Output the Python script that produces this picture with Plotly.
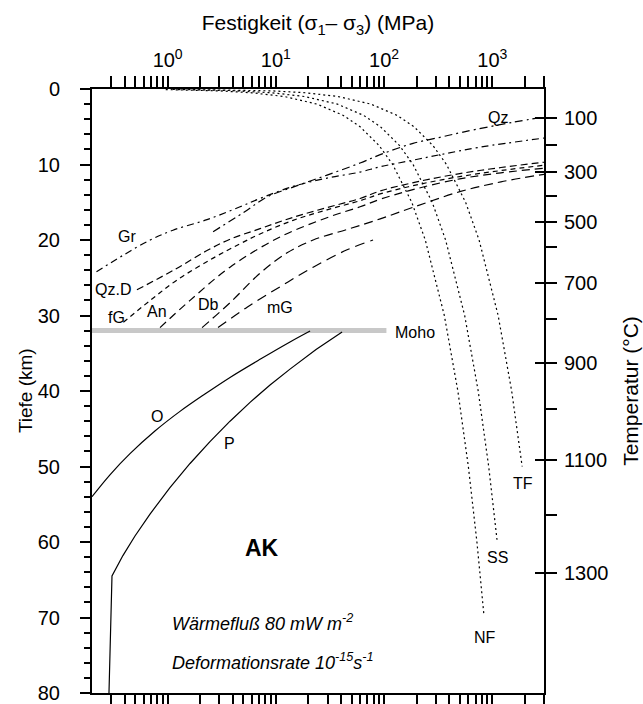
import math
import plotly.graph_objects as go

# ---------------- data (stress in MPa, depth in km) ----------------
gr_s = [0.22, 0.39, 0.69, 1.12, 2.31, 4.67, 7.14, 14.4, 29.7, 60, 92, 174, 329, 771, 3000]
gr_d = [24.2, 22.0, 20.0, 18.7, 17.3, 15.6, 14.5, 12.9, 11.8, 11.0, 10.3, 9.5, 8.7, 7.7, 6.5]

qz_s = [2.63, 4.98, 8.28, 14.4, 29.7, 60, 92, 185, 329, 537, 1556, 3000]
qz_d = [18.9, 16.4, 14.3, 13.0, 11.4, 9.8, 8.7, 7.2, 6.4, 5.7, 4.4, 3.7]

qzd_s = [0.52, 1.2, 2.31, 3.77, 7.14, 14.4, 29.7, 60, 92, 200, 500, 1200, 3000]
qzd_d = [26.6, 23.8, 21.4, 19.9, 18.5, 17.0, 15.7, 14.5, 13.5, 12.3, 11.2, 10.4, 9.7]

fg_s = [0.39, 0.69, 1.22, 2.63, 4.67, 7.14, 14.4, 29.7, 60, 92, 200, 500, 1200, 3000]
fg_d = [30.9, 28.0, 25.3, 22.4, 20.5, 19.2, 17.4, 16.0, 14.8, 13.9, 12.7, 11.6, 10.8, 10.1]

an_s = [0.85, 1.61, 3.77, 10.9, 31.7, 60, 92, 200, 500, 1200, 3000]
an_d = [31.6, 28.0, 23.6, 19.6, 16.9, 15.6, 14.6, 13.2, 11.9, 11.1, 10.5]

db_s = [2.08, 3.77, 7.14, 12.7, 22.1, 45.5, 92, 200, 500, 1200, 3000]
db_d = [31.6, 28.3, 24.4, 21.7, 20.0, 18.6, 17.2, 15.5, 13.6, 12.3, 11.3]

mg_s = [2.92, 5.42, 10.9, 22.1, 45.5, 79]
mg_d = [31.6, 28.9, 26.2, 23.6, 21.3, 20.0]

o_s = [20.7, 13.5, 7.14, 3.77, 2.21, 1.30, 0.763, 0.449, 0.293, 0.2]
o_d = [32.05, 33.5, 35.8, 38.2, 40.4, 42.7, 45.3, 48.3, 51.1, 54.0]

p_s = [40.9, 23.5, 13.5, 8.83, 5.77, 3.77, 2.46, 1.61, 1.05, 0.687, 0.499, 0.386, 0.306, 0.300, 0.287]
p_d = [32.2, 34.5, 37.1, 39.2, 41.5, 44.0, 46.7, 49.6, 52.8, 56.3, 59.2, 61.8, 64.5, 70.7, 80.0]

nf_s = [0.96, 3, 6, 12, 24, 42, 60, 90, 120, 180, 240, 360, 480, 600, 720, 836]
nf_d = [0.08, 0.25, 0.5, 1, 2, 3.5, 5, 7.5, 10, 15, 20, 30, 40, 50, 60, 69.7]

ss_s = [1.11, 3.7, 9.25, 18.5, 37, 64.8, 92.5, 139, 185, 278, 370, 555, 740, 925, 1104]
ss_d = [0.06, 0.2, 0.5, 1, 2, 3.5, 5, 7.5, 10, 15, 20, 30, 40, 50, 59.7]

tf_s = [1.13, 3.77, 9.4, 18.9, 37.7, 75.4, 132, 189, 283, 377, 566, 754, 1131, 1508, 1885]
tf_d = [0.03, 0.1, 0.25, 0.5, 1, 2, 3.5, 5, 7.5, 10, 15, 20, 30, 40, 50]

moho_s = [0.2, 105]
moho_d = [32.0, 32.0]

# temperature axis (right): depth of each isotherm
temp_major = [100, 300, 500, 700, 900, 1100, 1300]
temp_major_depth = [3.85, 11.0, 17.6, 25.7, 36.3, 49.2, 64.1]
temp_minor_depth = [7.4, 14.2, 20.9, 30.5, 42.4, 56.4]   # 200, 400, ..., 1200 °C

depth_ticks = [0, 10, 20, 30, 40, 50, 60, 70, 80]
stress_ticks = [1, 10, 100, 1000]
stress_ticktext = ["10<sup>0</sup>", "10<sup>1</sup>", "10<sup>2</sup>", "10<sup>3</sup>"]
stress_minor = [0.3, 0.4, 0.5, 0.6, 0.7, 0.8, 0.9,
                2, 3, 4, 5, 6, 7, 8, 9,
                20, 30, 40, 50, 60, 70, 80, 90,
                200, 300, 400, 500, 600, 700, 800, 900, 2000, 3000]

FONT = "Liberation Sans, Arial, sans-serif"

fig = go.Figure()

def add_line(xs, ys, dash, width=1.2, color="black", shape="linear"):
    fig.add_trace(go.Scatter(x=xs, y=ys, mode="lines", showlegend=False,
                             line=dict(color=color, width=width, dash=dash, shape=shape),
                             hoverinfo="skip"))

add_line(moho_s, moho_d, "solid", width=5, color="#c8c8c8")
add_line(gr_s, gr_d, "7px,4px,2px,4px", shape="spline")
add_line(qz_s, qz_d, "8px,4px,2px,4px", shape="spline")
add_line(qzd_s, qzd_d, "7px,4px", shape="spline")
add_line(fg_s, fg_d, "5px,4px", shape="spline")
add_line(an_s, an_d, "8px,5px", shape="spline")
add_line(db_s, db_d, "9px,5px", shape="spline")
add_line(mg_s, mg_d, "10px,6px", shape="spline")
add_line(o_s, o_d, "solid", shape="spline")
add_line(p_s, p_d, "solid")
add_line(nf_s, nf_d, "2px,3px")
add_line(ss_s, ss_d, "2px,3px")
add_line(tf_s, tf_d, "2px,3px")

labels = [
    ("Gr", 0.42, 19.6), ("Qz.D", 0.31, 26.6), ("fG", 0.34, 30.3), ("An", 0.80, 29.5),
    ("Db", 2.36, 28.6), ("mG", 10.9, 28.9), ("Moho", 193, 32.3), ("Qz", 1130, 3.8),
    ("O", 0.80, 43.4), ("P", 3.69, 46.9), ("TF", 1920, 52.2), ("SS", 1106, 62.0),
    ("NF", 857, 72.6),
]
anns = []
for t, xv, yv in labels:
    anns.append(dict(x=math.log10(xv), y=yv, xref="x", yref="y", text=t, showarrow=False,
                     font=dict(family=FONT, size=16, color="black")))
anns.append(dict(x=math.log10(7.45), y=60.8, xref="x", yref="y", text="<b>AK</b>", showarrow=False,
                 font=dict(family=FONT, size=23, color="black")))
anns.append(dict(x=math.log10(1.05), y=70.7, xref="x", yref="y", xanchor="left",
                 text="<i>Wärmefluß 80 mW m<sup>-2</sup></i>", showarrow=False,
                 font=dict(family=FONT, size=18, color="black")))
anns.append(dict(x=math.log10(1.05), y=75.8, xref="x", yref="y", xanchor="left",
                 text="<i>Deformationsrate 10<sup>-15</sup>s<sup>-1</sup></i>", showarrow=False,
                 font=dict(family=FONT, size=18, color="black")))
# left axis title (placed explicitly)
anns.append(dict(x=-0.148, y=0.5, xref="paper", yref="paper", text="Tiefe (km)",
                 textangle=-90, showarrow=False, xanchor="center", yanchor="middle",
                 font=dict(family=FONT, size=19, color="black")))

xr = [math.log10(0.2), math.log10(3000)]
tick_common = dict(ticks="outside", ticklen=11, tickwidth=1.5, tickcolor="black")
fig.update_layout(
    width=643, height=704,
    margin=dict(l=92, r=99, t=89, b=11, autoexpand=False),
    plot_bgcolor="white", paper_bgcolor="white",
    font=dict(family=FONT, size=20, color="black"),
    annotations=anns,
    xaxis=dict(type="log", range=xr, side="top", showgrid=False, zeroline=False,
               showline=True, linewidth=2, linecolor="black", automargin=False,
               tickmode="array", tickvals=stress_ticks, ticktext=stress_ticktext,
               minor=dict(tickmode="array", tickvals=stress_minor, showgrid=False, **tick_common),
               tickfont=dict(size=20), ticklabelstandoff=1,
               title=dict(text="Festigkeit (σ<sub>1</sub>– σ<sub>3</sub>) (MPa)",
                          font=dict(size=21), standoff=9),
               **tick_common),
    xaxis2=dict(type="log", range=xr, side="bottom", overlaying="x", anchor="y",
                showgrid=False, zeroline=False, showline=True, linewidth=2, linecolor="black",
                automargin=False,
                tickmode="array", tickvals=stress_ticks, showticklabels=False,
                minor=dict(tickmode="array", tickvals=stress_minor, showgrid=False, **tick_common),
                **tick_common),
    yaxis=dict(range=[80, 0], showgrid=False, zeroline=False, showline=True, linewidth=2,
               linecolor="black", tickmode="array", tickvals=depth_ticks, automargin=False,
               ticks="outside", ticklen=10, tickwidth=1.5, tickcolor="black",
               minor=dict(dtick=2, ticks="outside", ticklen=6, tickwidth=1.5,
                          tickcolor="black", showgrid=False),
               ticklabelstandoff=16, tickfont=dict(size=20)),
    yaxis2=dict(range=[80, 0], overlaying="y", side="right", anchor="x", automargin=False,
                showgrid=False, zeroline=False, showline=True, linewidth=2, linecolor="black",
                tickmode="array", tickvals=temp_major_depth, ticktext=[str(t) for t in temp_major],
                minor=dict(tickmode="array", tickvals=temp_minor_depth, showgrid=False, **tick_common),
                ticklabelstandoff=3, tickfont=dict(size=20),
                title=dict(text="Temperatur (°C)", font=dict(size=21), standoff=16),
                **tick_common),
    yaxis3=dict(range=[80, 0], overlaying="y", side="right", anchor="x", automargin=False,
                showgrid=False, zeroline=False, showline=False, showticklabels=False,
                tickmode="array", tickvals=temp_major_depth,
                ticks="inside", ticklen=9, tickwidth=1.5, tickcolor="black"),
)
fig.add_trace(go.Scatter(x=[1], y=[0], xaxis="x2", yaxis="y2", mode="markers",
                         marker=dict(opacity=0), showlegend=False, hoverinfo="skip"))
fig.add_trace(go.Scatter(x=[1], y=[0], xaxis="x", yaxis="y3", mode="markers",
                         marker=dict(opacity=0), showlegend=False, hoverinfo="skip"))

fig.write_html("out.html", config={"displayModeBar": False},
               post_script="document.body.style.margin='0';")
